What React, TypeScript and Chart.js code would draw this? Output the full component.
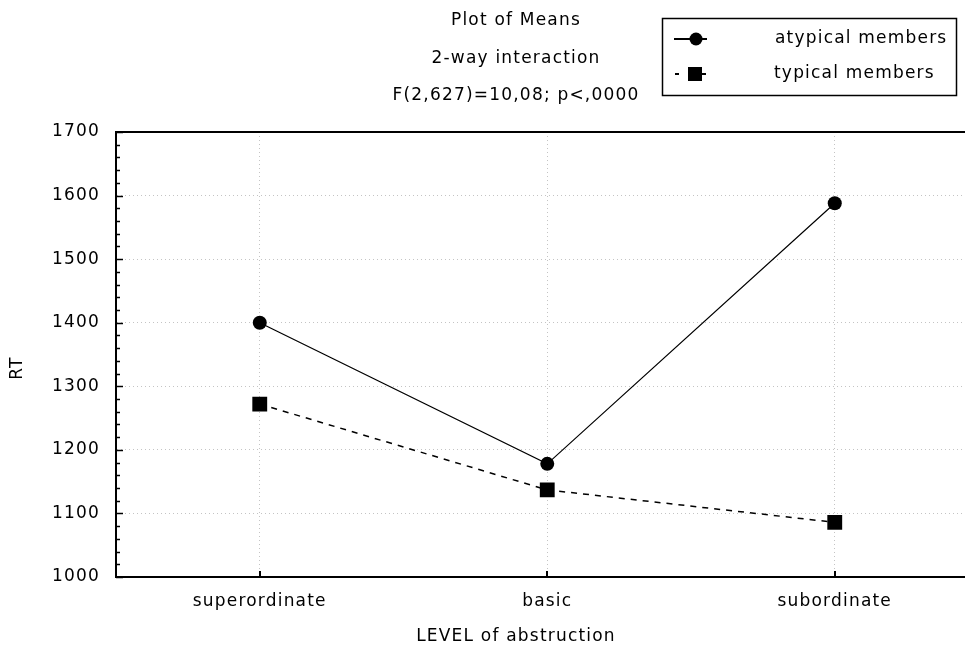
import React, { useEffect, useRef } from "react";
import { Chart, registerables } from "chart.js";

Chart.register(...registerables);

const categories = ["superordinate", "basic", "subordinate"];
const atypical = [1400, 1178, 1588];
const typical = [1272, 1137, 1086];
const yTicks = [1000, 1100, 1200, 1300, 1400, 1500, 1600, 1700];
const titleLines = ["Plot of Means", "2-way interaction", "F(2,627)=10,08; p<,0000"];
const seriesNames = ["atypical members", "typical members"];
const xTitle = "LEVEL of abstruction";
const yTitle = "RT";

const FONT = "DejaVu Sans";
const SPACING = "1.2px";

const decorPlugin = {
  id: "decor",
  beforeUpdate(chart: any) {
    chart.ctx.letterSpacing = SPACING;
  },
  beforeLayout(chart: any) {
    chart.ctx.letterSpacing = SPACING;
  },
  beforeDraw(chart: any) {
    chart.ctx.letterSpacing = SPACING;
  },
  afterDraw(chart: any) {
    const ctx = chart.ctx;
    const area = chart.chartArea;
    const ys = chart.scales.y;
    const xs = chart.scales.x;
    ctx.save();
    ctx.letterSpacing = SPACING;
    // top frame
    ctx.strokeStyle = "#000";
    ctx.lineWidth = 2;
    ctx.beginPath();
    ctx.moveTo(area.left, area.top);
    ctx.lineTo(area.right, area.top);
    ctx.stroke();
    // y ticks inward, major + minor
    ctx.lineWidth = 1.5;
    for (let v = ys.min; v <= ys.max; v += 20) {
      const py = Math.round(ys.getPixelForValue(v)) + 0.5;
      const major = v % 100 === 0;
      ctx.beginPath();
      ctx.moveTo(area.left, py);
      ctx.lineTo(area.left + (major ? 7 : 4), py);
      ctx.stroke();
    }
    // x ticks inward
    ctx.lineWidth = 2;
    categories.forEach((_, i) => {
      const px = Math.round(xs.getPixelForValue(i));
      ctx.beginPath();
      ctx.moveTo(px, area.bottom);
      ctx.lineTo(px, area.bottom - 6);
      ctx.stroke();
    });
    // titles
    ctx.fillStyle = "#000";
    ctx.font = `17px "${FONT}"`;
    ctx.textAlign = "center";
    ctx.textBaseline = "middle";
    const titleY = [21, 59, 96];
    titleLines.forEach((t, i) => ctx.fillText(t, 516, titleY[i]));
    // axis titles
    ctx.fillText(xTitle, 516, 637);
    ctx.save();
    ctx.translate(18, 368);
    ctx.rotate(-Math.PI / 2);
    ctx.fillText(yTitle, 0, 0);
    ctx.restore();
    // legend box
    ctx.lineWidth = 1.5;
    ctx.strokeStyle = "#000";
    ctx.strokeRect(662.5, 18.5, 294, 77);
    const rows = [39, 74];
    ctx.lineWidth = 2;
    ctx.beginPath();
    ctx.moveTo(674, rows[0]);
    ctx.lineTo(707, rows[0]);
    ctx.stroke();
    ctx.beginPath();
    ctx.arc(696, rows[0], 6.5, 0, Math.PI * 2);
    ctx.fill();
    ctx.fillRect(675, rows[1] - 1, 4, 2);
    ctx.fillRect(688, rows[1] - 7, 14, 14);
    ctx.fillRect(702, rows[1] - 1, 4, 2);
    ctx.textAlign = "left";
    ctx.fillText(seriesNames[0], 775, rows[0]);
    ctx.fillText(seriesNames[1], 774, rows[1]);
    ctx.restore();
  },
};

export default function App() {
  const ref = useRef<HTMLCanvasElement>(null);
  useEffect(() => {
    if (!ref.current) return;
    const chart = new Chart(ref.current, {
      type: "line",
      data: {
        labels: categories,
        datasets: [
          {
            label: seriesNames[0],
            data: atypical,
            borderColor: "#000",
            backgroundColor: "#000",
            borderWidth: 1.2,
            pointStyle: "circle",
            pointRadius: 7,
            pointBorderWidth: 0,
            tension: 0,
          },
          {
            label: seriesNames[1],
            data: typical,
            borderColor: "#000",
            backgroundColor: "#000",
            borderWidth: 1.5,
            borderDash: [6, 6],
            pointStyle: "rect",
            pointRadius: 10.5,
            pointBorderWidth: 0,
            tension: 0,
          },
        ],
      },
      options: {
        responsive: false,
        animation: false,
        devicePixelRatio: 1,
        layout: { padding: { top: 132, right: 2, left: 0, bottom: 0 } },
        plugins: { legend: { display: false }, title: { display: false }, tooltip: { enabled: false } },
        scales: {
          x: {
            offset: true,
            grid: { display: true, color: "#c4c4c4", lineWidth: 1, drawTicks: false, offset: false },
            border: { display: true, color: "#000", width: 2, dash: [1, 3] },
            ticks: { color: "#000", font: { family: FONT, size: 17 }, padding: 14, maxRotation: 0 },
            afterFit: (s: any) => {
              s.height = 73;
            },
          },
          y: {
            min: 1000,
            max: 1700,
            afterBuildTicks: (s: any) => {
              s.ticks = yTicks.map((v) => ({ value: v }));
            },
            grid: { display: true, color: "#c4c4c4", lineWidth: 1, drawTicks: false },
            border: { display: true, color: "#000", width: 2, dash: [1, 3] },
            ticks: {
              color: "#000",
              font: { family: FONT, size: 17 },
              padding: 16,
              callback: (v: any) => String(v),
            },
            afterFit: (s: any) => {
              s.width = 116;
            },
          },
        },
      },
      plugins: [decorPlugin],
    });
    return () => chart.destroy();
  }, []);
  return (
    <div style={{ position: "fixed", left: 0, top: 0, width: 965, height: 650, overflow: "hidden", background: "#fff" }}>
      <canvas ref={ref} width={989} height={650} style={{ width: 989, height: 650, display: "block" }} />
    </div>
  );
}
